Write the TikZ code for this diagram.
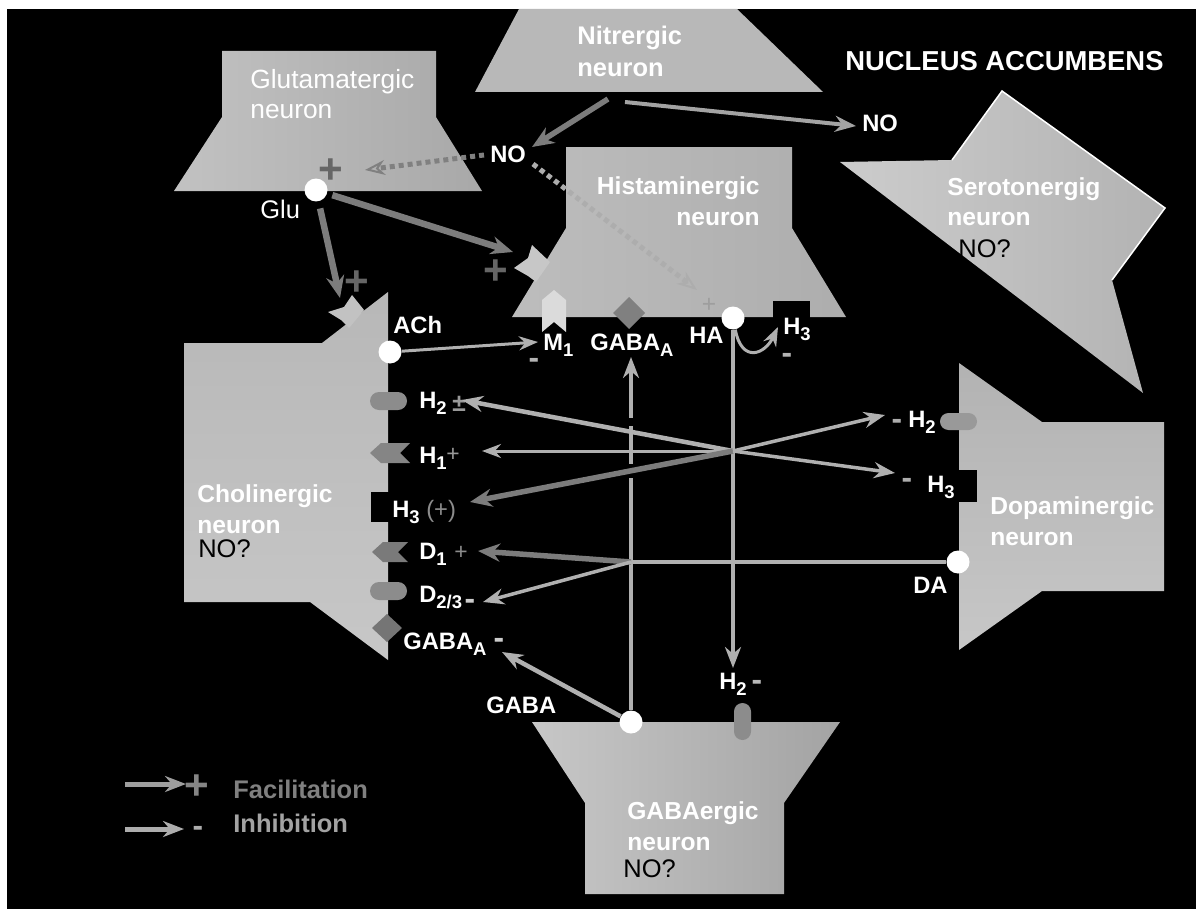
\documentclass[tikz,border=0pt]{standalone}
\usepackage{fontspec}
\setmainfont{Liberation Sans}
\usetikzlibrary{arrows.meta}
\definecolor{dk}{HTML}{7C7C7C}
\definecolor{lt}{HTML}{B0B0B0}
\definecolor{plusdk}{HTML}{666666}
\definecolor{mn}{HTML}{B4B4B4}
\definecolor{rc}{HTML}{8C8C8C}
\newcommand{\sbs}[1]{\raisebox{-0.55ex}{\fontsize{10.5}{10.5}\selectfont #1}}
\begin{document}
\begin{tikzpicture}[x=0.02cm,y=-0.02cm,
  lab/.style={text=white,font=\bfseries\fontsize{13.5}{16}\selectfont,inner sep=0pt,anchor=base west},
  nlab/.style={text=white,font=\bfseries\fontsize{14}{18}\selectfont,inner sep=0pt,anchor=north west,align=left},
  nq/.style={text=black,font=\fontsize{14.5}{17}\selectfont,inner sep=0pt,anchor=base west},
  bulb/.style={circle,fill=white,minimum size=0.46cm,inner sep=0pt},
  bigplus/.style={text=plusdk,font=\bfseries\fontsize{24}{24}\selectfont,inner sep=0pt},
  smsign/.style={font=\bfseries\fontsize{14}{14}\selectfont,inner sep=0pt},
  msign/.style={font=\bfseries\fontsize{18}{18}\selectfont,inner sep=0pt,text=mn},
  darr/.style={draw=dk,line width=0.13cm,-{Stealth[length=0.44cm,width=0.36cm]}},
  larr/.style={draw=lt,line width=0.09cm,-{Stealth[length=0.42cm,width=0.32cm]}},
  tarr/.style={draw=lt,line width=0.06cm,-{Stealth[length=0.38cm,width=0.28cm]}},
  lline/.style={draw=lt,line width=0.08cm},
  dotarr/.style={line width=0.1cm,dash pattern=on 0.1cm off 0.08cm,-{Stealth[length=0.4cm,width=0.3cm,open,line width=0.04cm]}},
  rcp/.style={fill=rc,draw=none}
]
\useasboundingbox (0,0) rectangle (1196,909);
\fill[white] (0,0) rectangle (1196,909);
\fill[black] (7,9) rectangle (1196,909);

% ---------- neurons ----------
\path[left color=white!76!black,middle color=white!54!black,right color=white!66!black]
  (222,51) -- (436,51) -- (436,117) -- (482,191) -- (174,191) -- (222,117) -- cycle;
\path[left color=white!72!black,middle color=white!14!black,right color=white!72!black]
  (519,9) -- (737,9) -- (823,92) -- (475,92) -- cycle;
\path[left color=white!74!black,middle color=white!48!black,right color=white!68!black]
  (566,147) -- (792,147) -- (792,228) -- (846,317) -- (512,317) -- (566,228) -- cycle;
\path[left color=white!80!black,middle color=white!46!black,right color=white!70!black]
  (1002,91) -- (1165,208) -- (1112,280) -- (1143,393) -- (840,162) -- (952,160) -- cycle;
\draw[white,line width=0.03cm] (952,160) -- (1002,91) -- (1165,208) -- (1112,280);
\path[top color=white!72!black,middle color=white!50!black,bottom color=white!78!black]
  (184,343) -- (322,343) -- (388,292) -- (388,660) -- (310,602) -- (184,602) -- cycle;
\path[top color=white!70!black,middle color=white!48!black,bottom color=white!78!black]
  (959,363) -- (1042,422) -- (1164,422) -- (1164,591) -- (1042,591) -- (959,650) -- cycle;
\path[left color=white!78!black,middle color=white!54!black,right color=white!64!black]
  (532,722) -- (840,722) -- (784,803) -- (784,894) -- (585,894) -- (585,803) -- cycle;

% ---------- receptors ----------
% histaminergic
\fill[black] (773,301) rectangle (810,318);
\fill[white!86!black] (542,300) -- (554,290) -- (566,300) -- (566,332) -- (554,322) -- (542,332) -- cycle;
\fill[white!50!black] (629,297) -- (645,313) -- (629,329) -- (613,313) -- cycle;
\fill[white!78!black] (514,268) -- (528,258) -- (532,245) -- (550,262) -- (536,282) -- (528,276) -- cycle;
% cholinergic
\fill[white!76!black] (328,312) -- (344,307) -- (352,295) -- (364,310) -- (349,328) -- (341,320) -- cycle;
\fill[rcp,rounded corners=0.18cm] (370,392) rectangle (407,410);
\fill[white!52!black] (370,453) -- (381,443) -- (410,443) -- (400,453) -- (410,463) -- (381,463) -- cycle;
\fill[black] (371,492) rectangle (389,522);
\fill[white!48!black] (372,552) -- (383,542) -- (408,542) -- (398,552) -- (408,562) -- (383,562) -- cycle;
\fill[rcp,rounded corners=0.18cm] (370,582) rectangle (407,600);
\fill[white!46!black] (387,614) -- (402,628) -- (387,642) -- (372,628) -- cycle;
% dopaminergic
\fill[white!60!black,rounded corners=0.17cm] (940,413) rectangle (977,430);
\fill[black] (958,470) rectangle (977,502);
% GABAergic
\fill[white!55!black,rounded corners=0.17cm] (734,703) rectangle (751,740);

% ---------- neuron labels ----------
\node[nlab,font=\fontsize{15}{17}\selectfont] (tGlut) at (250,69) {Glutamatergic\\neuron};
\node[nlab,font=\bfseries\fontsize{14.5}{18}\selectfont] (tNit) at (577,26) {Nitrergic\\neuron};
\node[nlab,anchor=north east,align=right] (tHis) at (760,176) {Histaminergic\\neuron};
\node[nlab,font=\bfseries\fontsize{14}{17}\selectfont] (tSer) at (947,177) {Serotonergig\\neuron};
\node[nq] (qSer) at (958,257) {NO?};
\node[nlab] (tCho) at (197,484) {Cholinergic\\neuron};
\node[nq] (qCho) at (198,557) {NO?};
\node[nlab] (tDop) at (990,496) {Dopaminergic\\neuron};
\node[nlab] (tGab) at (627,801) {GABAergic\\neuron};
\node[nq] (qGab) at (623,877) {NO?};
\node[lab,font=\bfseries\fontsize{15.6}{17}\selectfont] (tNA) at (845,71) {NUCLEUS ACCUMBENS};

% ---------- bulbs ----------
\node[bulb] (glu) at (316,190) {};
\node[bulb] (ach) at (390,352) {};
\node[bulb] (ha) at (733,318) {};
\node[bulb] (da) at (958,562) {};
\node[bulb] (gaba) at (631,722) {};

% ---------- text labels ----------
\node[lab,font=\fontsize{14.5}{17}\selectfont] (lGlu) at (260,218) {Glu};
\node[lab] (no1) at (490,162) {NO};
\node[lab] (no2) at (862,132) {NO};
\node[lab] (lACh) at (393,333) {ACh};
\node[lab] (lM1) at (543,350) {M\sbs{1}};
\node[lab] (lGAh) at (590,350) {GABA\sbs{A}};
\node[lab] (lHA) at (689,343) {HA};
\node[lab] (lH3h) at (783,334) {H\sbs{3}};
\node[lab] (lH2c) at (419,408) {H\sbs{2}};
\node[lab] (lH1c) at (419,463) {H\sbs{1}};
\node[lab] (lH3c) at (392,517) {H\sbs{3} {\mdseries\color{white!55!black}(+)}};
\node[lab] (lD1c) at (419,559) {D\sbs{1}};
\node[lab] (lD23c) at (419,602) {D\sbs{2/3}};
\node[lab] (lGAc) at (403,649) {GABA\sbs{A}};
\node[lab] (lH2d) at (908,427) {H\sbs{2}};
\node[lab] (lH3d) at (927,492) {H\sbs{3}};
\node[lab] (lDA) at (913,593) {DA};
\node[lab] (lGABA) at (486,713) {GABA};
\node[lab] (lH2g) at (719,689) {H\sbs{2}};

% signs
\node[bigplus] (p1) at (331,171) {+};
\node[bigplus] (p2) at (357,283) {+};
\node[bigplus] (p3) at (496,272) {+};
\node[smsign,text=white!62!black,font=\fontsize{14}{14}\selectfont] (p4) at (709,305) {+};
\node[msign] (m1) at (534,363) {-};
\node[msign] (m2) at (787,358) {-};
\node[smsign,text=white!60!black] (p5) at (459,404) {±};
\node[smsign,text=white!60!black,font=\fontsize{13}{13}\selectfont] (p6) at (453,455) {+};
\node[smsign,text=white!55!black,font=\fontsize{13}{13}\selectfont] (p7) at (461,553) {+};
\node[msign,text=white!80!black] (m3) at (470,604) {-};
\node[msign,text=white!80!black] (m4) at (499,643) {-};
\node[msign,text=white!68!black] (m5) at (897,424) {-};
\node[msign,text=white!68!black] (m6) at (907,483) {-};
\node[msign,text=white!72!black] (m7) at (757,685) {-};

% ---------- coordinates ----------
\coordinate (nit1) at (608,99);
\coordinate (nit2) at (625,102);
\coordinate (tNO1) at (532,147);
\coordinate (tNO2) at (856,126);
\coordinate (sNOg) at (484,155);
\coordinate (tNOg) at (365,170);
\coordinate (sNOh) at (533,164);
\coordinate (tNOh) at (697,290);
\coordinate (tGluH) at (513,252);
\coordinate (tGluC) at (340,298);
\coordinate (tM1) at (538,342);
\coordinate (tH3h) at (778,327);
\coordinate (tHAg) at (733,668);
\coordinate (hub) at (733,451);
\coordinate (tH2c) at (462,400);
\coordinate (tH1c) at (482,451);
\coordinate (tH3c) at (470,502);
\coordinate (tH2d) at (885,415);
\coordinate (tH3d) at (895,473);
\coordinate (dj) at (631,562);
\coordinate (tD1) at (478,551);
\coordinate (tD23) at (483,602);
\coordinate (tGAh) at (631,357);
\coordinate (tGAc) at (502,652);

% ---------- connectors ----------
\draw[darr,line width=0.11cm] (nit1) -- (tNO1);
\draw[larr,draw=white!64!black,line width=0.08cm] (nit2) -- (tNO2);
\draw[dotarr,draw=white!50!black] (sNOg) -- (tNOg);
\draw[dotarr,draw=white!68!black] (sNOh) -- (tNOh);
\draw[darr,shorten <=3pt] (glu) -- (tGluH);
\draw[darr,shorten <=4pt] (glu) -- (tGluC);
\draw[tarr] (ach) -- (tM1);
\draw[tarr] (ha) .. controls (742,364) and (765,354) .. (tH3h);
\draw[larr] (gaba) -- (tGAh);
\draw[larr] (gaba) -- (tGAc);
\fill[black] (624,418) rectangle (638,426);
\fill[black] (624,464) rectangle (638,478);
\draw[larr] (ha) -- (tHAg);
\draw[lline] (da) -- (dj);
\draw[larr] (hub) -- (tH2c);
\draw[tarr] (hub) -- (tH1c);
\draw[darr,line width=0.11cm] (hub) -- (tH3c);
\draw[larr,line width=0.07cm] (hub) -- (tH2d);
\draw[larr,line width=0.07cm] (hub) -- (tH3d);
\draw[darr,line width=0.11cm] (dj) -- (tD1);
\draw[larr,line width=0.07cm] (dj) -- (tD23);

% ---------- legend ----------
\coordinate (lg1s) at (125,784);
\coordinate (lg1e) at (186,784);
\coordinate (lg2s) at (125,829);
\coordinate (lg2e) at (184,829);
\draw[larr,draw=white!62!black,line width=0.1cm] (lg1s) -- (lg1e);
\draw[larr,draw=white!68!black,line width=0.1cm] (lg2s) -- (lg2e);
\node[bigplus,text=white!52!black] (lp) at (197,787) {+};
\node[msign,text=white!68!black] (lm) at (198,831) {-};
\node[lab,text=white!50!black,font=\bfseries\fontsize{14.5}{17}\selectfont] (lFac) at (233,798) {Facilitation};
\node[lab,text=white!64!black,font=\bfseries\fontsize{14.5}{17}\selectfont] (lInh) at (233,832) {Inhibition};
\end{tikzpicture}
\end{document}
